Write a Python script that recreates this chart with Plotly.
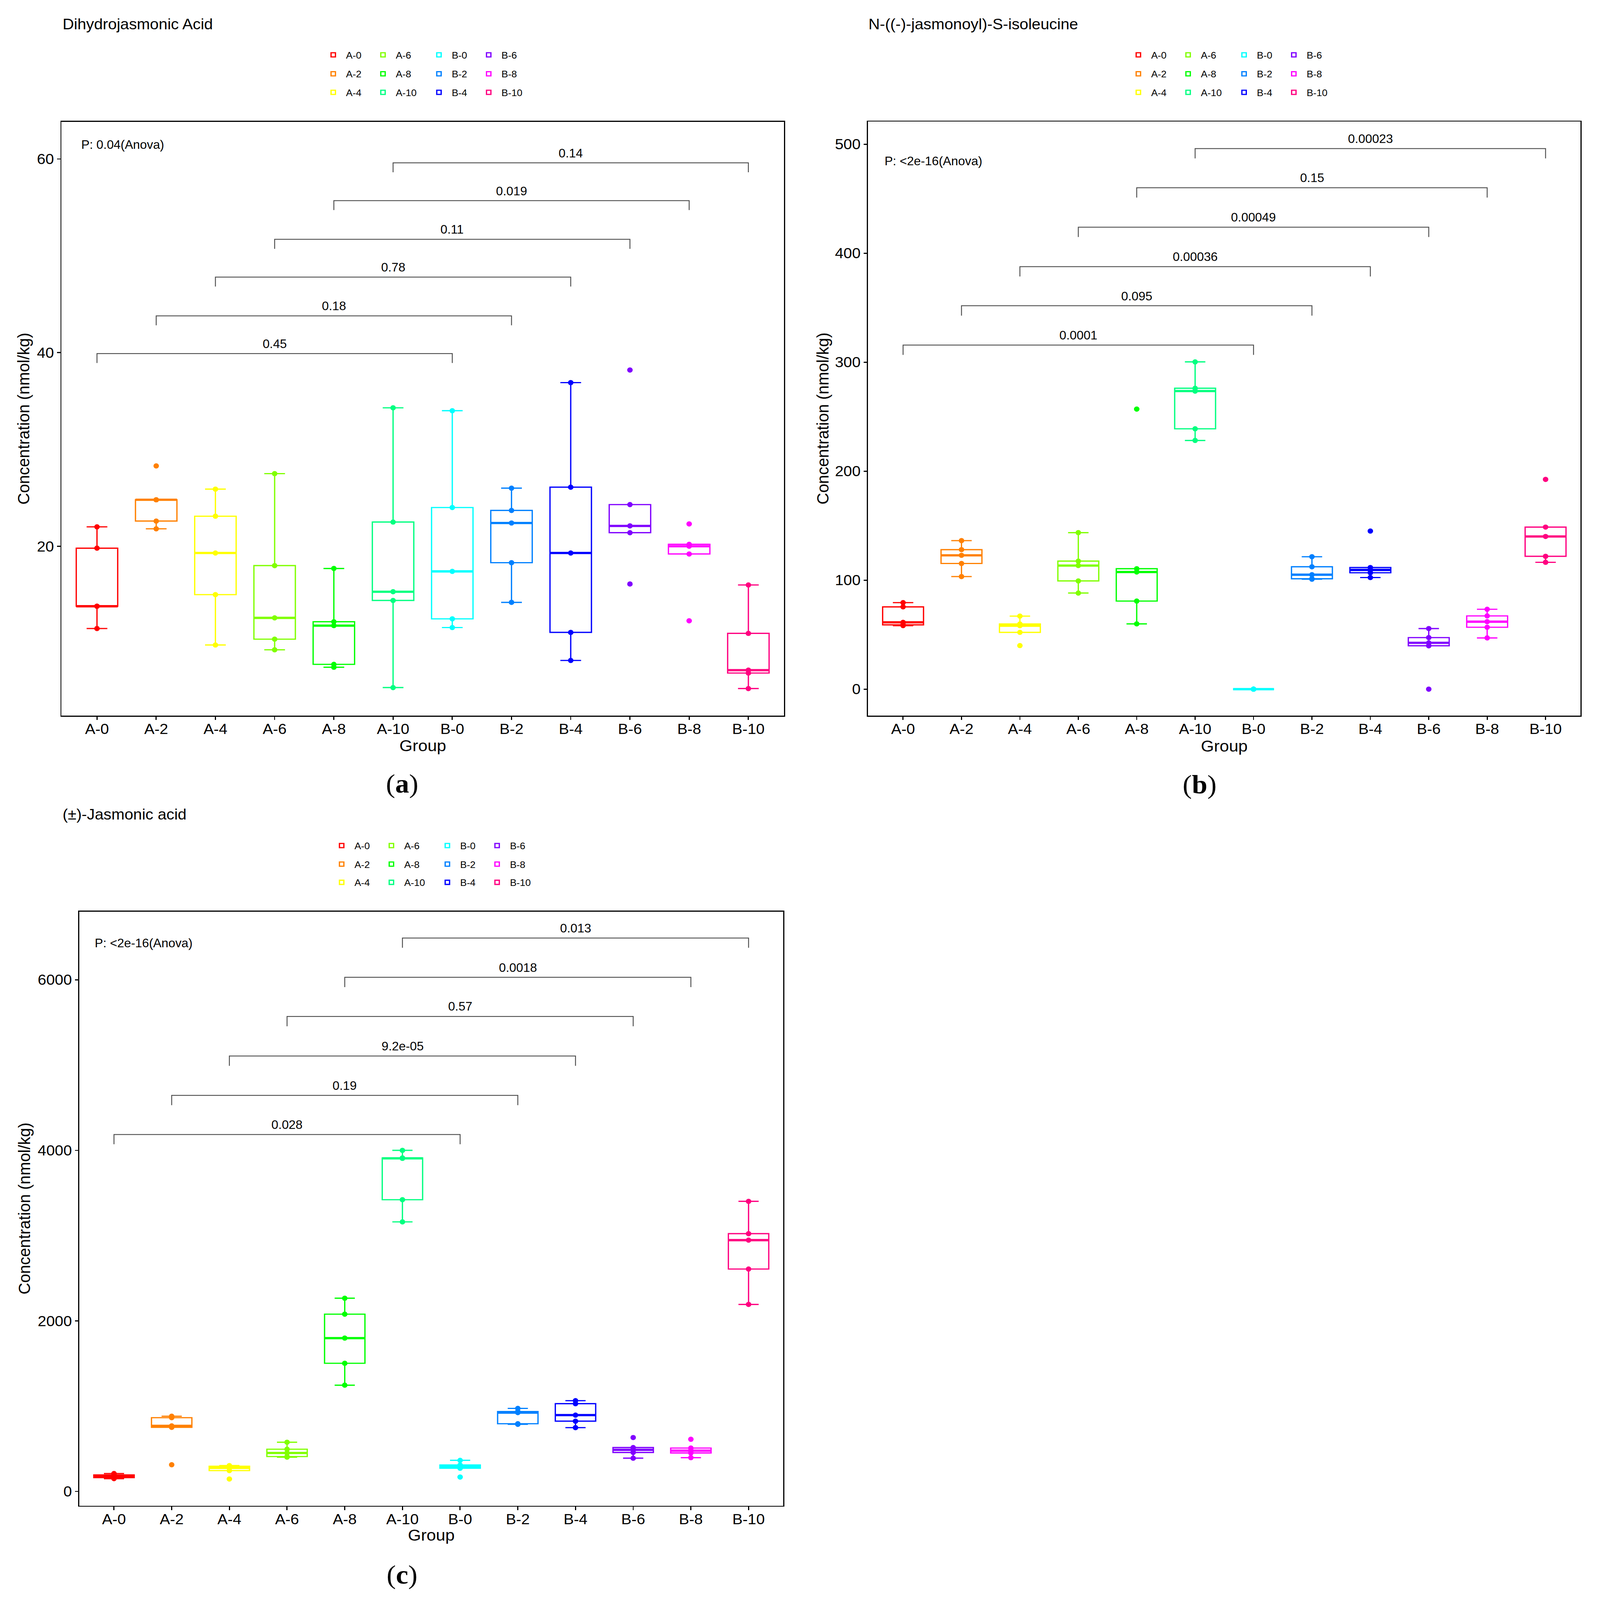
import numpy as np
import plotly.graph_objects as go

# --- data (five replicates per group) ---

groups = ["A-0", "A-2", "A-4", "A-6", "A-8", "A-10",
          "B-0", "B-2", "B-4", "B-6", "B-8", "B-10"]
group_colors = ["#FF0000", "#FF8000", "#FFFF00", "#80FF00", "#00FF00", "#00FF80",
                "#00FFFF", "#0080FF", "#0000FF", "#8000FF", "#FF00FF", "#FF0080"]

dihydrojasmonic = [
    [11.5, 13.8, 13.8, 19.8, 22.0],
    [21.8, 22.6, 24.8, 24.8, 28.3],
    [9.8, 15.0, 19.3, 23.1, 25.9],
    [9.3, 10.4, 12.6, 18.0, 27.5],
    [7.5, 7.8, 11.8, 12.2, 17.7],
    [5.4, 14.4, 15.3, 22.5, 34.3],
    [11.6, 12.5, 17.4, 24.0, 34.0],
    [14.2, 18.3, 22.4, 23.7, 26.0],
    [8.2, 11.1, 19.3, 26.1, 36.9],
    [16.1, 21.4, 22.1, 24.3, 38.2],
    [12.3, 19.2, 20.0, 20.2, 22.3],
    [5.3, 6.9, 7.2, 11.0, 16.0],
]
ja_ile = [
    [58.3, 59.0, 61.3, 75.5, 79.4],
    [103.3, 115.3, 122.8, 128.0, 136.3],
    [40.0, 52.1, 58.2, 59.8, 67.0],
    [88.2, 99.3, 113.4, 117.5, 143.6],
    [59.9, 80.8, 107.5, 110.5, 257.0],
    [228.2, 238.9, 273.5, 276.1, 300.3],
    [0.0, 0.0, 0.0, 0.0, 0.0],
    [100.9, 101.3, 105.0, 112.3, 121.5],
    [102.4, 106.8, 109.4, 111.6, 145.1],
    [0.0, 39.8, 42.5, 47.3, 55.6],
    [47.0, 56.8, 61.9, 67.2, 73.3],
    [116.4, 121.9, 140.1, 148.7, 192.5],
]
jasmonic = [
    [150, 162, 176, 194, 210],
    [313, 752, 769, 865, 882],
    [146, 244, 276, 296, 303],
    [402, 409, 451, 495, 577],
    [1246, 1503, 1798, 2079, 2266],
    [3161, 3421, 3906, 3911, 4000],
    [169, 272, 292, 310, 365],
    [787, 794, 924, 937, 974],
    [748, 824, 895, 1029, 1064],
    [390, 457, 488, 515, 632],
    [396, 451, 478, 509, 612],
    [2193, 2608, 2947, 3023, 3402],
]

pairs = [("A-0", "B-0"), ("A-2", "B-2"), ("A-4", "B-4"),
         ("A-6", "B-6"), ("A-8", "B-8"), ("A-10", "B-10")]
dihydrojasmonic_p = ["0.45", "0.18", "0.78", "0.11", "0.019", "0.14"]
dihydrojasmonic_bracket_y = [39.9, 43.8, 47.8, 51.7, 55.7, 59.6]
ja_ile_p = ["0.0001", "0.095", "0.00036", "0.00049", "0.15", "0.00023"]
ja_ile_bracket_y = [315.7, 351.8, 387.7, 423.9, 460.1, 496.0]
jasmonic_p = ["0.028", "0.19", "9.2e-05", "0.57", "0.0018", "0.013"]
jasmonic_bracket_y = [4186, 4645, 5106, 5570, 6029, 6490]

titles = ["Dihydrojasmonic Acid", "N-((-)-jasmonoyl)-S-isoleucine", "(±)-Jasmonic acid"]
anova_text = ["P: 0.04(Anova)", "P: &lt;2e-16(Anova)", "P: &lt;2e-16(Anova)"]
panel_tags = ["a", "b", "c"]

# --- page geometry (pixels) ---

W, H = 4374, 4567
FONT = "Liberation Sans, Arial, Helvetica, sans-serif"


def fx(px):
    return px / W


def fy(py):
    return 1 - py / H


panels = [
    dict(values=dihydrojasmonic, p=dihydrojasmonic_p, levels=dihydrojasmonic_bracket_y,
         box=(168, 2143, 348, 2043), yrange=[2.49, 63.83], dtick=20,
         title_xy=(169, 69), anova_xy=(220, 413), ytitle_x=64, xtitle_y=2128,
         tag_xy=(1099, 2236), legend_x=911, legend_rows=(157, 211, 264)),
    dict(values=ja_ile, p=ja_ile_p, levels=ja_ile_bracket_y,
         box=(2373, 4321, 347, 2043), yrange=[-24.4, 520.8], dtick=100,
         title_xy=(2372, 69), anova_xy=(2416, 460), ytitle_x=2249, xtitle_y=2129,
         tag_xy=(3279, 2238), legend_x=3112, legend_rows=(157, 211, 264)),
    dict(values=jasmonic, p=jasmonic_p, levels=jasmonic_bracket_y,
         box=(217, 2141, 2602, 4298), yrange=[-168, 6800], dtick=2000,
         title_xy=(169, 2324), anova_xy=(257, 2692), ytitle_x=66, xtitle_y=4382,
         tag_xy=(1099, 4494), legend_x=934, legend_rows=(2414, 2467, 2519)),
]

fig = go.Figure()
annotations = []
layout_extra = {}

for k, pn in enumerate(panels):
    n = k + 1
    xa = "x" if n == 1 else f"x{n}"
    ya = "y" if n == 1 else f"y{n}"
    legend_ids = [("legend" if 3 * k + r == 0 else f"legend{3 * k + r + 1}") for r in range(3)]

    for i, g in enumerate(groups):
        vals = pn["values"][i]
        col = group_colors[i]
        fig.add_trace(go.Box(
            x=[i] * len(vals), y=vals, name=g,
            xaxis=xa, yaxis=ya,
            legend=legend_ids[i % 3],
            legendwidth=78 if i // 3 == 1 else 61,
            boxpoints="all", jitter=0, pointpos=0,
            quartilemethod="inclusive",
            width=0.7, whiskerwidth=0.5,
            line=dict(color=col, width=3.5),
            fillcolor="rgba(255,255,255,0)",
            marker=dict(color=col, size=15),
            hoverinfo="y+name",
        ))
        # thicker median bar like ggplot's
        med = float(np.median(vals))
        fig.add_trace(go.Scatter(
            x=[i - 0.35, i + 0.35], y=[med, med], mode="lines",
            line=dict(color=col, width=6.5), xaxis=xa, yaxis=ya,
            showlegend=False, hoverinfo="skip",
        ))

    # significance brackets
    drop = 0.25 * (pn["levels"][1] - pn["levels"][0])
    bx, by = [], []
    for (g1, g2), lev, ptxt in zip(pairs, pn["levels"], pn["p"]):
        i1, i2 = groups.index(g1), groups.index(g2)
        bx += [i1, i1, i2, i2, None]
        by += [lev - drop, lev, lev, lev - drop, None]
        annotations.append(dict(
            x=(i1 + i2) / 2, y=lev, xref=xa, yref=ya, text=ptxt, showarrow=False,
            yshift=28, yanchor="middle", font=dict(size=34, color="black", family=FONT)))
    fig.add_trace(go.Scatter(
        x=bx, y=by, mode="lines", line=dict(color="#4d4d4d", width=2.5),
        xaxis=xa, yaxis=ya, showlegend=False, hoverinfo="skip"))

    x0, x1, y0, y1 = pn["box"]
    axis_common = dict(
        showline=True, mirror=True, linecolor="black", linewidth=3,
        showgrid=False, zeroline=False, ticks="outside", ticklen=9, tickwidth=3,
        tickcolor="black", tickfont=dict(size=42, color="black", family=FONT))
    layout_extra["xaxis" if n == 1 else f"xaxis{n}"] = dict(
        axis_common, domain=[fx(x0), fx(x1)], anchor=ya, range=[-0.6, 11.6],
        tickmode="array", tickvals=list(range(len(groups))), ticktext=groups,
        ticklabelstandoff=-10)
    layout_extra["yaxis" if n == 1 else f"yaxis{n}"] = dict(
        axis_common, domain=[fy(y1), fy(y0)], anchor=xa, range=pn["yrange"],
        tick0=0, dtick=pn["dtick"])

    # legends: one horizontal legend per row, 4 entries each
    for r in range(3):
        layout_extra[legend_ids[r]] = dict(
            orientation="h", x=fx(pn["legend_x"] - 35), y=fy(pn["legend_rows"][r]),
            xanchor="left", yanchor="middle", bgcolor="rgba(0,0,0,0)",
            font=dict(size=27, color="black", family=FONT),
            itemwidth=60, entrywidthmode="pixels", traceorder="normal")

    tx, ty = pn["title_xy"]
    annotations.append(dict(x=fx(tx), y=fy(ty), xref="paper", yref="paper", text=titles[k],
                            showarrow=False, xanchor="left", yanchor="middle",
                            font=dict(size=43, color="black", family=FONT)))
    ax_, ay_ = pn["anova_xy"]
    annotations.append(dict(x=fx(ax_), y=fy(ay_), xref="paper", yref="paper", text=anova_text[k],
                            showarrow=False, xanchor="left", yanchor="middle",
                            font=dict(size=34, color="black", family=FONT)))
    annotations.append(dict(x=fx(pn["ytitle_x"]), y=fy((y0 + y1) / 2), xref="paper", yref="paper",
                            text="Concentration (nmol/kg)", textangle=-90, showarrow=False,
                            xanchor="center", yanchor="middle",
                            font=dict(size=46, color="black", family=FONT)))
    annotations.append(dict(x=fx((x0 + x1) / 2), y=fy(pn["xtitle_y"]), xref="paper", yref="paper",
                            text="Group", showarrow=False, xanchor="center", yanchor="middle",
                            font=dict(size=46, color="black", family=FONT)))
    gx, gy = pn["tag_xy"]
    annotations.append(dict(x=fx(gx), y=fy(gy), xref="paper", yref="paper",
                            text=f"(<b>{panel_tags[k]}</b>)", showarrow=False,
                            xanchor="center", yanchor="middle",
                            font=dict(size=76, color="black",
                                      family="Liberation Serif, DejaVu Serif, serif")))

fig.update_layout(
    width=W, height=H,
    margin=dict(l=0, r=0, t=0, b=0),
    paper_bgcolor="white", plot_bgcolor="white",
    font=dict(family=FONT, color="black"),
    annotations=annotations,
    **layout_extra,
)

# the browser viewport may be smaller than the figure: stretch the page to fit it
fit_to_window = """
var gd = document.getElementById('{plot_id}');
document.body.style.margin = '0';
document.body.style.overflow = 'hidden';
document.body.style.background = 'white';
var sx = window.innerWidth / %d, sy = window.innerHeight / %d;
gd.style.transformOrigin = '0 0';
gd.style.transform = 'scale(' + sx + ',' + sy + ')';
""" % (W, H)

fig.write_html("out.html", post_script=fit_to_window, config={"displayModeBar": False})
